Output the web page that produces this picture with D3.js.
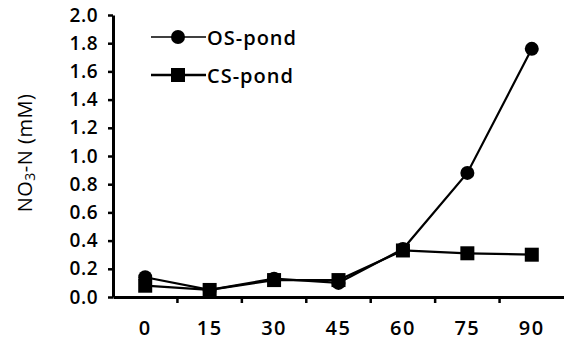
<!DOCTYPE html>
<html>
<head>
<meta charset="utf-8">
<script src="https://cdn.jsdelivr.net/npm/d3@7"></script>
<style>
  body { margin: 0; background: #fff; }
  text { font-family: "Open Sans", "DejaVu Sans", sans-serif; fill: #000; }
</style>
</head>
<body>
<svg id="chart" width="564" height="343"></svg>
<script>
const days = ["0", "15", "30", "45", "60", "75", "90"]
const osPond = [0.14, 0.05, 0.13, 0.10, 0.34, 0.88, 1.76]
const csPond = [0.08, 0.05, 0.12, 0.12, 0.33, 0.31, 0.30]
const yTicks = [0, 0.2, 0.4, 0.6, 0.8, 1.0, 1.2, 1.4, 1.6, 1.8, 2.0]

const svg = d3.select("#chart")
const x = d3.scaleBand().domain(days).range([113, 564])
const y = d3.scaleLinear().domain([0, 2]).range([297, 15])

// y axis
const yAxis = svg.append("g")
  .attr("transform", "translate(113,0)")
  .call(d3.axisLeft(y).tickValues(yTicks).tickFormat(d3.format(".1f")).tickSize(5).tickSizeOuter(0))
yAxis.select(".domain").attr("stroke-width", 3)
yAxis.selectAll(".tick line").attr("stroke-width", 2.5)
yAxis.selectAll(".tick text")
  .attr("x", -15)
  .style("font-size", "19px")
  .style("font-weight", "600")
  .style("letter-spacing", "0.5px")
  .style("font-family", "\"Open Sans\", sans-serif")

// x axis
const xAxis = svg.append("g")
  .attr("transform", "translate(0,297)")
  .call(d3.axisBottom(x).tickSize(0).tickSizeOuter(0))
xAxis.select(".domain").attr("stroke-width", 3)
xAxis.selectAll(".tick text")
  .attr("y", 24)
  .style("font-size", "20px")
  .style("font-weight", "600")
  .style("letter-spacing", "1.5px")
  .style("font-family", "\"Open Sans\", sans-serif")

// x ticks sit between categories
xAxis.selectAll(".sep")
  .data(days.slice(1))
  .join("line")
  .attr("x1", d => x(d))
  .attr("x2", d => x(d))
  .attr("y1", 0)
  .attr("y2", 6)
  .attr("stroke", "#000")
  .attr("stroke-width", 2.5)

// y label
const yLabel = svg.append("text")
  .attr("transform", "translate(32,153) rotate(-90)")
  .attr("text-anchor", "middle")
  .style("font-size", "20px")
  .style("letter-spacing", "0.5px")
yLabel.append("tspan").text("NO")
yLabel.append("tspan").text("3").style("font-size", "14px").attr("dy", 3)
yLabel.append("tspan").text("-N (mM)").attr("dy", -3)

const cx = d => x(d) + x.bandwidth() / 2
const line = d3.line().x((d, i) => cx(days[i])).y(d => y(d))

svg.append("path").datum(csPond).attr("d", line)
  .attr("fill", "none").attr("stroke", "#000").attr("stroke-width", 2.2)
svg.append("path").datum(osPond).attr("d", line)
  .attr("fill", "none").attr("stroke", "#000").attr("stroke-width", 2.2)

svg.append("g").selectAll("rect")
  .data(csPond)
  .join("rect")
  .attr("x", (d, i) => cx(days[i]) - 7)
  .attr("y", d => y(d) - 7)
  .attr("width", 14)
  .attr("height", 14)

svg.append("g").selectAll("circle")
  .data(osPond)
  .join("circle")
  .attr("cx", (d, i) => cx(days[i]))
  .attr("cy", d => y(d))
  .attr("r", 7)

// legend
const legend = svg.append("g")
legend.append("line").attr("x1", 151).attr("x2", 206).attr("y1", 37).attr("y2", 37)
  .attr("stroke", "#000").attr("stroke-width", 1.5)
legend.append("circle").attr("cx", 178).attr("cy", 37).attr("r", 7)
legend.append("text").attr("x", 207).attr("y", 38).attr("dy", "0.35em")
  .style("font-size", "20px").style("font-weight", "600").style("letter-spacing", "1px").text("OS-pond")
legend.append("line").attr("x1", 151).attr("x2", 206).attr("y1", 75).attr("y2", 75)
  .attr("stroke", "#000").attr("stroke-width", 2.5)
legend.append("rect").attr("x", 171).attr("y", 68).attr("width", 14).attr("height", 14)
legend.append("text").attr("x", 207).attr("y", 76).attr("dy", "0.35em")
  .style("font-size", "20px").style("font-weight", "600").style("letter-spacing", "1px").text("CS-pond")
</script>
</body>
</html>
